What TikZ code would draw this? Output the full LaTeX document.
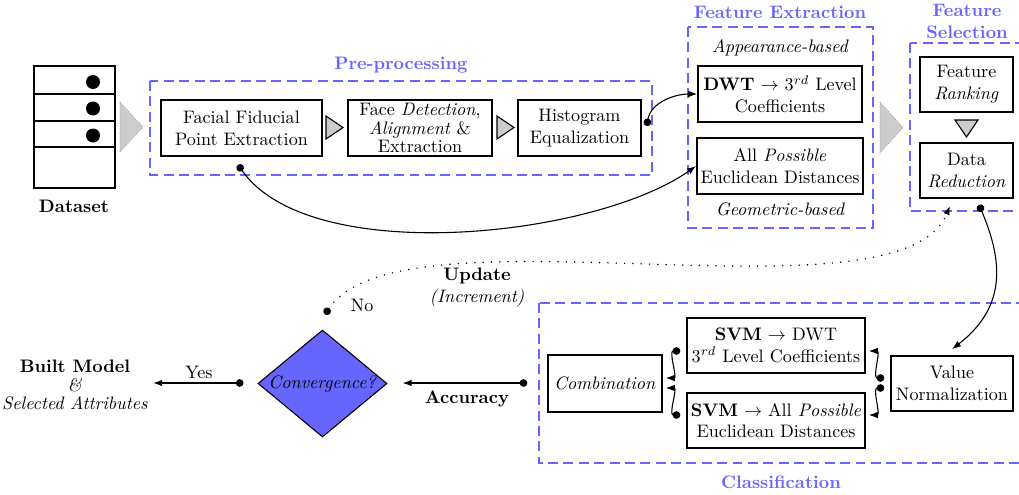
\documentclass[tikz,border=0pt]{standalone}
\usetikzlibrary{arrows.meta,calc,shapes.geometric}

% length of one drawing unit
\newcommand\unitpt{0.553}

\begin{document}
\begin{tikzpicture}[
  x=\unitpt pt, y=\unitpt pt,
  box/.style={draw, thick, align=center, inner sep=2pt},
  sz/.style 2 args={minimum width=#1*\unitpt pt, minimum height=#2*\unitpt pt},
  group/.style={draw=blue!60, semithick, dash pattern=on 5.5pt off 3pt},
  grouptitle/.style={text=blue!60, font=\bfseries, align=center},
  link/.style={semithick, {Circle[length=4.2pt]}-{Latex[length=5pt,width=3.6pt]}},
  feedback/.style={line width=0.9pt, line cap=round, dash pattern=on 0pt off 4.6pt,
    {Circle[length=4.2pt]}-{Latex[length=5pt,width=3.6pt]}},
  flowtip/.style={fill=black!20, draw=black, semithick, line join=miter},
  bigtip/.style={fill=black!20, draw=black!45, thin, densely dotted},
]
\useasboundingbox (0,0) rectangle (1019,-495);

% ---------- group frames and their titles ----------
\draw[group] (150,-81) rectangle (652,-175);
\node[grouptitle] (pretitle) at (401,-65) {Pre-processing};
\draw[group] (688,-27) rectangle (873,-228);
\node[grouptitle] (fetitle) at (780,-12) {Feature Extraction};
\draw[group] (910,-43) rectangle (1030,-211);
\node[grouptitle] (fstitle) at (967,-21.5) {Feature\\Selection};
\draw[group] (539,-303) rectangle (1030,-463);
\node[grouptitle] (clstitle) at (781,-482) {Classification};

% ---------- dataset ----------
\node[draw, very thick, sz={81}{122}] (dataset) at (74.5,-127) {};
\draw[very thick] (34,-94) -- (115,-94);
\draw[very thick] (34,-121) -- (115,-121);
\draw[very thick] (34,-147) -- (115,-147);
\fill (93,-82) circle (7);
\fill (93,-108.5) circle (7);
\fill (93,-135.5) circle (7);
\node (datasetlbl) at (74,-206) {\textbf{Dataset}};
\draw[bigtip] (120,-102) -- (143,-127) -- (120,-152) -- cycle;

% ---------- pre-processing ----------
\node[box, sz={161}{56}] (facial) at (241.5,-128) {Facial Fiducial\\Point Extraction};
\node[box, sz={144}{56}] (facedet) at (420,-128)
  {Face \textit{Detection},\\[-2pt]\textit{Alignment} \&\\[-2pt]Extraction};
\node[box, sz={123}{56}] (hist) at (579.5,-128) {Histogram\\Equalization};
\draw[flowtip] (326,-116) -- (343,-127.5) -- (326,-139) -- cycle;
\draw[flowtip] (497,-116) -- (514,-127.5) -- (497,-139) -- cycle;

% ---------- feature extraction ----------
\node[font=\itshape] (appear) at (780,-48) {Appearance-based};
\node[box, sz={164}{56}] (dwt) at (780,-94) {\textbf{DWT} $\rightarrow$ $3^{rd}$ Level\\Coefficients};
\node[box, sz={164}{56}] (allpos) at (780,-166) {All \textit{Possible}\\Euclidean Distances};
\node[font=\itshape] (geom) at (780,-209) {Geometric-based};
\draw[bigtip] (880,-102) -- (903,-127.5) -- (880,-153) -- cycle;

% ---------- feature selection ----------
\node[box, sz={93}{55}] (rank) at (966.5,-84.5) {Feature\\\textit{Ranking}};
\node[box, sz={93}{55}] (datared) at (966.5,-170.5) {Data\\\textit{Reduction}};
\draw[flowtip] (955,-120) -- (978,-120) -- (966.5,-137) -- cycle;

% ---------- classification ----------
\node[box, sz={114}{57}] (comb) at (605,-383.5) {\textit{Combination}};
\node[box, sz={178}{55}] (svmdwt) at (776,-345.5) {\textbf{SVM} $\rightarrow$ DWT\\$3^{rd}$ Level Coefficients};
\node[box, sz={178}{55}] (svmall) at (776,-420.5) {\textbf{SVM} $\rightarrow$ All \textit{Possible}\\Euclidean Distances};
\node[box, sz={122}{55}] (valnorm) at (952,-383.5) {Value\\Normalization};

% ---------- decision ----------
\node[diamond, draw, semithick, fill=blue!60, inner sep=0pt, aspect=1.2,
  sz={129}{107}] (conv) at (322.5,-383.5) {\textit{Convergence?}};
\node[align=center] (built) at (75,-385)
  {\textbf{Built Model}\\[-2pt]\textit{\&}\\[-2pt]\textit{Selected Attributes}};

% ---------- connectors ----------
\draw[link] ($(hist.east)+(5,2)$) to[out=80,in=180] (dwt.west);
\draw[link] ($(facial.south)+(-3.5,-8)$) to[out=-55,in=215,looseness=0.7] (allpos.west);
\draw[link] ($(datared.south)+(12.5,-6)$) to[out=-67,in=38,looseness=1.15] ($(valnorm.north)+(0,6)$);

\draw[link] ($(svmdwt.west)+(-6,-5.5)$) to[out=180,in=0] ($(comb.east)+(3,5.5)$);
\draw[link] ($(svmall.west)+(-6,5.5)$) to[out=180,in=0] ($(comb.east)+(3,-4.5)$);
\draw[link] ($(valnorm.west)+(-6,5.5)$) to[out=180,in=0] ($(svmdwt.east)+(3,-5.5)$);
\draw[link] ($(valnorm.west)+(-6,-4.5)$) to[out=180,in=0] ($(svmall.east)+(3,5.5)$);

\draw[link] ($(comb.west)+(-20,0.5)$) -- ($(conv.east)+(15,0.5)$);
\node (acclbl) at (467,-399) {\textbf{Accuracy}};
\draw[link] ($(conv.west)+(-14,0.5)$) -- ($(built.east)+(-1,2)$);
\node (yeslbl) at (199,-372) {Yes};

\draw[feedback] ($(conv.north)+(2.5,15)$) .. controls (400,-200) and (900,-330) .. ($(datared.south)+(-16.5,-7)$);
\node (nolbl) at (362,-305) {No};
\node[align=center] (updlbl) at (477,-287.5) {\textbf{Update}\\\textit{(Increment)}};
\end{tikzpicture}
\end{document}
